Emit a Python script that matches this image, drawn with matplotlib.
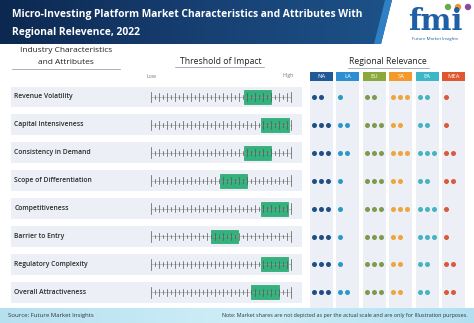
import numpy as np
import matplotlib
matplotlib.use("Agg")
import matplotlib.pyplot as plt
from matplotlib.patches import Polygon, Circle

plt.rcParams['font.family'] = ['Open Sans', 'DejaVu Sans']

# Data
characteristics = ["Revenue Volatility", "Capital Intensiveness", "Consistency in Demand",
                   "Scope of Differentiation", "Competitiveness", "Barrier to Entry",
                   "Regulatory Complexity", "Overall Attractiveness"]
impact_low = [23.2, 27.5, 23.2, 17.2, 27.4, 14.9, 27.4, 25.0]
impact_high = [30.0, 34.5, 29.9, 24.1, 34.3, 21.8, 34.3, 32.1]
scale_max = 35

regions = ["NA", "LA", "EU", "SA", "EA", "MEA"]
na_dots = [2, 3, 3, 3, 3, 3, 3, 3]
la_dots = [1, 2, 2, 1, 1, 1, 1, 2]
eu_dots = [2, 3, 3, 3, 3, 3, 3, 3]
sa_dots = [3, 2, 3, 2, 3, 2, 2, 2]
ea_dots = [2, 2, 3, 2, 3, 3, 2, 2]
mea_dots = [1, 1, 2, 2, 1, 1, 2, 2]
region_dots = [na_dots, la_dots, eu_dots, sa_dots, ea_dots, mea_dots]

header_colors = ["#1f5a96", "#2e8fd0", "#8aa83c", "#f39a2b", "#3db6c6", "#e0562e"]
dot_colors = ["#1f4f85", "#2b9ac6", "#7f9a4c", "#eea53c", "#45b4bf", "#d95a3c"]

W, H = 474, 323
ROW0, ROW_H = 97.0, 27.9


def row_of(py):
    return (py - ROW0) / ROW_H


def px_axes(fig, x0, y0, x1, y1):
    return fig.add_axes([x0 / W, 1 - y1 / H, (x1 - x0) / W, (y1 - y0) / H])


fig = plt.figure(figsize=(W / 100, H / 100), dpi=100)

# background / decorations in pixel space
bg = fig.add_axes([0, 0, 1, 1], zorder=0)
bg.set_xlim(0, W)
bg.set_ylim(H, 0)
bg.axis('off')

grad = np.linspace(0, 1, 256).reshape(1, -1)
banner = bg.imshow(grad, extent=(0, 392, 44, 0), aspect='auto',
                   cmap=matplotlib.colors.LinearSegmentedColormap.from_list('b', ['#0c2850', '#173f72', '#1d5288']))
clip = Polygon([(0, 0), (392, 0), (381, 44), (0, 44)], closed=True, transform=bg.transData)
banner.set_clip_path(clip)
bg.add_patch(Polygon([(385, 0), (392, 0), (381, 44), (374, 44)], closed=True, color='#2f7fc4', lw=0))

bg.text(12, 15, "Micro-Investing Platform Market Characteristics and Attributes With",
        color='white', fontsize=7.4, fontweight='bold', va='center')
bg.text(12, 32, "Regional Relevence, 2022", color='white', fontsize=7.4, fontweight='bold', va='center')

# logo
bg.text(435, 30, "fmi", color='#1e5fa8', fontsize=21, fontweight='bold',
        family='DejaVu Serif', ha='center', va='baseline')
for cx, col in zip([448, 458, 468], ['#6aac45', '#f0962a', '#8a4aa0']):
    bg.add_patch(Circle((cx, 7), 3.2, color=col, lw=0))
bg.text(435, 39, "Future Market Insights", color='#1e5fa8', fontsize=3.2, ha='center', va='center')

# section headers
bg.text(66, 51, "Industry Characteristics", fontsize=6, color='#222222', ha='center', va='center')
bg.text(66, 62, "and Attributes", fontsize=6, color='#222222', ha='center', va='center')
bg.plot([12, 120], [68.5, 68.5], color='#9aa6b4', lw=0.6)
bg.text(221, 61.5, "Threshold of Impact", fontsize=6.2, color='#222222', ha='center', va='center')
bg.plot([175, 264], [67, 67], color='#9aa6b4', lw=0.6)
bg.text(388, 61.5, "Regional Relevance", fontsize=6.2, color='#222222', ha='center', va='center')
bg.plot([348, 429], [68, 68], color='#9aa6b4', lw=0.6)
bg.text(152, 76, "Low", fontsize=3.8, color='#777777', ha='center', va='center')
bg.text(288, 76, "High", fontsize=3.8, color='#777777', ha='center', va='center')

# footer
bg.imshow(grad, extent=(0, W, H, 308), aspect='auto',
          cmap=matplotlib.colors.LinearSegmentedColormap.from_list('f', ['#b6e0f0', '#cdeef8', '#b3e0f0']))
bg.text(8, 315.5, "Source: Future Market Insights", fontsize=4.3, color='#333333', va='center')
bg.text(468, 315.5, "Note: Market shares are not depicted as per the actual scale and are only for Illustration purposes.",
        fontsize=3.9, color='#333333', va='center', ha='right')

# left table: labels + threshold scale
rows = np.arange(len(characteristics))
ax = px_axes(fig, 11, 84, 302, 306)
ax.set_xlim((11 - 151) / 4, (302 - 151) / 4)
ax.set_ylim(row_of(306), row_of(84))
ax.axis('off')
for r in rows:
    ax.axhspan(r - 0.375, r + 0.375, color='#eceff5', lw=0, zorder=0)
    ax.text(-34.2, r, characteristics[r], fontsize=4.9, fontweight='semibold',
            color='#2b2b2b', va='center', ha='left')

ax.barh(rows, np.array(impact_high) - np.array(impact_low), left=impact_low,
        height=0.5, color='#34b27d', edgecolor='#27a06c', lw=0.5, zorder=1)

ticks = np.arange(0, scale_max + 1)
for r in rows:
    ax.plot([0, scale_max], [r, r], color='#9a9a9a', lw=0.4, zorder=2)
    for t in ticks:
        if t in (0, scale_max):
            h = 0.19
        elif t % 2 == 0:
            h = 0.13
        else:
            h = 0.07
        ax.plot([t, t], [r - h, r + h], color='#555555', lw=0.5, zorder=3)

# regional relevance
cols = np.arange(len(regions))
axr = px_axes(fig, 308.3, 72, 466.7, 308)
axr.set_xlim(-0.5, 5.5)
axr.set_ylim(row_of(308), row_of(72))
axr.axis('off')
axr.bar(cols, row_of(308) - row_of(81), bottom=row_of(81), width=0.87, color='#eceff5', lw=0, zorder=0)
axr.bar(cols, row_of(81) - row_of(72), bottom=row_of(72), width=0.87, color=header_colors, lw=0, zorder=1)
for c in cols:
    axr.text(c, row_of(76.5), regions[c], color='white', fontsize=4.2, ha='center', va='center', zorder=2)
    for r in rows:
        n = region_dots[c][r]
        xs = c - 0.285 + 0.265 * np.arange(n)
        axr.scatter(xs, np.full(n, r), s=13, color=dot_colors[c], lw=0, zorder=3)

fig.savefig("out.png", dpi=100)
